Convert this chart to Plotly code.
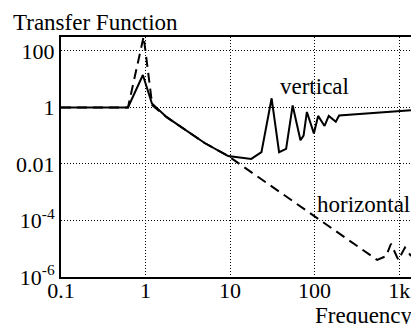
import plotly.graph_objects as go

# Data
freq_vertical = [0.1, 0.62, 0.93, 1.19, 1.78, 5.0, 9.5, 17.8, 23.5, 31, 38, 46, 55, 68, 74, 81, 98, 110, 131, 147, 178, 195, 1380]
tf_vertical = [1, 1, 14, 1.38, 0.45, 0.055, 0.019, 0.015, 0.026, 2.1, 0.026, 0.034, 1.17, 0.069, 0.1, 0.69, 0.12, 0.5, 0.22, 0.5, 0.31, 0.52, 0.79]

freq_horizontal = [0.1, 0.62, 0.95, 1.2, 1.78, 5.0, 9.5, 550, 700, 800, 980, 1170, 1380]
tf_horizontal = [1, 1, 320, 1.2, 0.45, 0.055, 0.019, 4e-6, 5.5e-6, 1.5e-5, 4e-6, 1.1e-5, 5.5e-6]

x_tickvals = [0.1, 1, 10, 100, 1000]
x_ticktext = ["0.1", "1", "10", "100", "1k"]
y_tickvals = [100, 1, 0.01, 1e-4, 1e-6]
y_ticktext = ["100", "1", "0.01", "10<sup>-4</sup>", "10<sup>-6</sup>"]

FONT = "Liberation Serif, Times New Roman, serif"
TICKFONT = dict(family=FONT, size=22, color="black")
LABELFONT = dict(family=FONT, size=23, color="black")

fig = go.Figure()
fig.add_trace(go.Scatter(x=freq_horizontal, y=tf_horizontal, mode="lines",
                         line=dict(color="black", width=2, dash="10px,6px"),
                         showlegend=False, hoverinfo="skip"))
fig.add_trace(go.Scatter(x=freq_vertical, y=tf_vertical, mode="lines",
                         line=dict(color="black", width=2),
                         showlegend=False, hoverinfo="skip"))

fig.update_layout(
    width=411, height=324,
    margin=dict(l=61, r=0, t=37, b=47, autoexpand=False),
    paper_bgcolor="white", plot_bgcolor="white",
    font=dict(family=FONT, size=22, color="black"),
    xaxis=dict(type="log", range=[-1, 3.14], tickvals=x_tickvals, ticktext=x_ticktext,
               showline=True, linecolor="black", linewidth=2, mirror=True,
               showgrid=True, gridcolor="black", gridwidth=1, griddash="1px,2px",
               ticks="", zeroline=False, tickfont=TICKFONT, automargin=False,
               ticklabelstandoff=-7),
    yaxis=dict(type="log", range=[-6, 2.49], tickvals=y_tickvals, ticktext=y_ticktext,
               showline=True, linecolor="black", linewidth=2,
               showgrid=True, gridcolor="black", gridwidth=1, griddash="1px,2px",
               ticks="", zeroline=False, tickfont=TICKFONT, automargin=False),
    annotations=[
        dict(text="Transfer Function", xref="paper", yref="paper", x=-50/350, y=1.0 + 14.5/240,
             xanchor="left", yanchor="middle", showarrow=False, font=LABELFONT),
        dict(text="vertical", x=1.57, y=0.737, xref="x", yref="y", showarrow=False,
             xanchor="left", yanchor="middle", font=LABELFONT),
        dict(text="horizontal", x=2.006, y=-3.44, xref="x", yref="y", showarrow=False,
             xanchor="left", yanchor="middle", font=LABELFONT),
        dict(text="Frequency", xref="paper", yref="paper", x=(313-61)/350, y=-38/240,
             xanchor="left", yanchor="middle", showarrow=False, font=LABELFONT),
    ],
)
fig.write_html("out.html", config={"displayModeBar": False},
               post_script="document.body.style.margin='0';document.body.style.overflow='hidden';")
